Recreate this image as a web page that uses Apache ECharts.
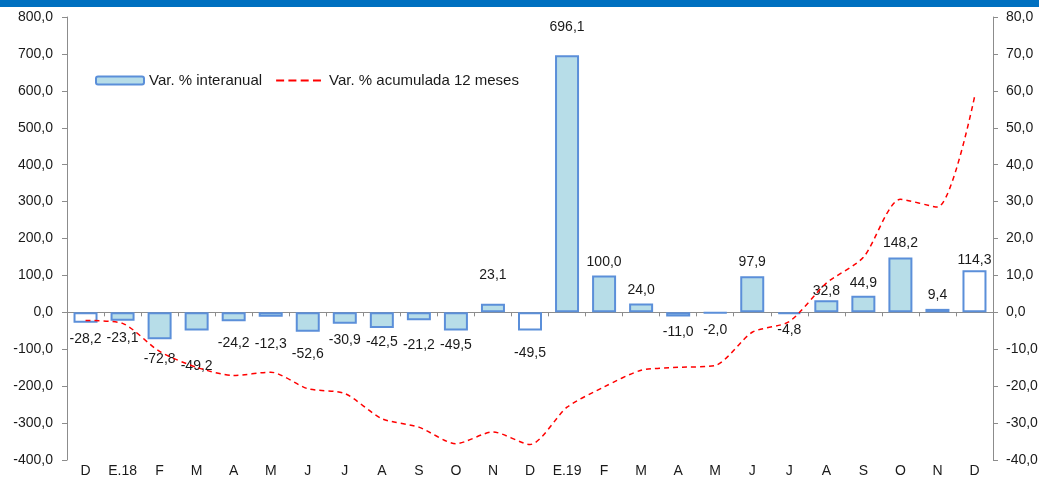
<!DOCTYPE html>
<html>
<head>
<meta charset="utf-8">
<script src="https://cdn.jsdelivr.net/npm/echarts@6/dist/echarts.min.js"></script>
<style>
  html, body { margin: 0; padding: 0; background: #fff; }
  #chart { width: 1039px; height: 479px; }
</style>
</head>
<body>
<div id="chart"></div>
<script>
  // meses (dic 2017 - dic 2019)
  var months = ['D', 'E.18', 'F', 'M', 'A', 'M', 'J', 'J', 'A', 'S', 'O', 'N', 'D', 'E.19', 'F', 'M', 'A', 'M', 'J', 'J', 'A', 'S', 'O', 'N', 'D']
  // Var. % interanual
  var interanual = [-28.2, -23.1, -72.8, -49.2, -24.2, -12.3, -52.6, -30.9, -42.5, -21.2, -49.5, 23.1, -49.5, 696.1, 100.0, 24.0, -11.0, -2.0, 97.9, -4.8, 32.8, 44.9, 148.2, 9.4, 114.3]
  // Var. % acumulada 12 meses
  var acumulada = [-2.2, -3.0, -10.6, -14.9, -17.1, -16.2, -20.7, -22.0, -28.8, -31.1, -35.6, -32.4, -35.8, -25.7, -20.2, -15.7, -14.9, -14.4, -5.4, -2.5, 7.9, 14.9, 30.6, 28.5, 58.3]

  var fmt = function (v) { return v.toFixed(1).replace('.', ',') }
  var txt = '#1a1a1a'
  var axisGray = '#8c8c8c'
  var font = 'Liberation Sans, Arial, sans-serif'

  // diciembres en blanco
  var whiteBars = [0, 12, 24]
  // separacion de cada etiqueta respecto a su barra (px), como en el original
  var labelDist = [9, 10, 13, 29, 15, 20, 15, 9, 7, 18, 8, 22, 16, 21, 6, 6, 9, 9, 7, 9, 2, 6, 7, 7, 3]

  // icono de leyenda: linea discontinua
  var dashIcon = 'path://M0,0h0.01v0.01h-0.01z M48,8h0.01v0.01h-0.01z ' +
    'M0,3h8v2h-8z M12.3,3h8v2h-8z M24.6,3h8v2h-8z M36.9,3h8v2h-8z'

  var barData = interanual.map(function (v, i) {
    return {
      value: v,
      itemStyle: {
        color: whiteBars.indexOf(i) >= 0 ? '#ffffff' : '#b7dde8'
      },
      label: {
        position: v < 0 ? 'bottom' : 'top',
        distance: labelDist[i]
      }
    }
  })

  var chart = echarts.init(document.getElementById('chart'))
  var option = {
    animation: false,
    textStyle: { fontFamily: font },
    graphic: [{
      type: 'rect',
      left: 0,
      top: 0,
      shape: { width: 1039, height: 7 },
      style: { fill: '#0070c0' }
    }],
    legend: {
      left: 95,
      top: 73,
      padding: 0,
      itemWidth: 48,
      itemHeight: 8,
      itemGap: 14,
      textStyle: { fontSize: 15, color: txt, fontFamily: font },
      data: [
        { name: 'Var. % interanual' },
        { name: 'Var. % acumulada 12 meses', icon: dashIcon, itemStyle: { color: '#ff0000' } }
      ]
    },
    grid: { left: 67, right: 46, top: 17, bottom: 19, outerBoundsMode: 'none', containLabel: false },
    xAxis: [{
      type: 'category',
      data: months,
      axisLine: { onZero: true, lineStyle: { color: axisGray, width: 1 } },
      axisTick: { show: true, length: 4, lineStyle: { color: axisGray } },
      axisLabel: { show: false }
    }, {
      type: 'category',
      data: months,
      position: 'bottom',
      axisLine: { show: false, onZero: false },
      axisTick: { show: false },
      axisLabel: { color: txt, fontSize: 14, margin: 4, interval: 0 }
    }],
    yAxis: [{
      type: 'value',
      min: -400,
      max: 800,
      interval: 100,
      splitLine: { show: false },
      axisLine: { show: true, lineStyle: { color: axisGray } },
      axisTick: { show: true, length: 5, lineStyle: { color: axisGray } },
      axisLabel: { color: txt, fontSize: 14, margin: 14, formatter: fmt }
    }, {
      type: 'value',
      min: -40,
      max: 80,
      interval: 10,
      position: 'right',
      splitLine: { show: false },
      axisLine: { show: true, lineStyle: { color: axisGray } },
      axisTick: { show: true, length: 5, lineStyle: { color: axisGray } },
      axisLabel: { color: txt, fontSize: 14, margin: 13, formatter: fmt }
    }],
    series: [{
      name: 'Var. % interanual',
      type: 'bar',
      xAxisIndex: 0,
      yAxisIndex: 0,
      barWidth: 24,
      itemStyle: { color: '#b7dde8', borderColor: '#5b8fd9', borderWidth: 2 },
      label: {
        show: true,
        color: txt,
        fontSize: 14,
        formatter: function (p) { return fmt(p.value) }
      },
      data: barData
    }, {
      name: 'Var. % acumulada 12 meses',
      type: 'line',
      xAxisIndex: 0,
      yAxisIndex: 1,
      smooth: 0.25,
      symbol: 'none',
      lineStyle: { color: '#ff0000', width: 1.5, type: [5, 4] },
      itemStyle: { color: '#ff0000' },
      data: acumulada
    }]
  }
  chart.setOption(option)
</script>
</body>
</html>
